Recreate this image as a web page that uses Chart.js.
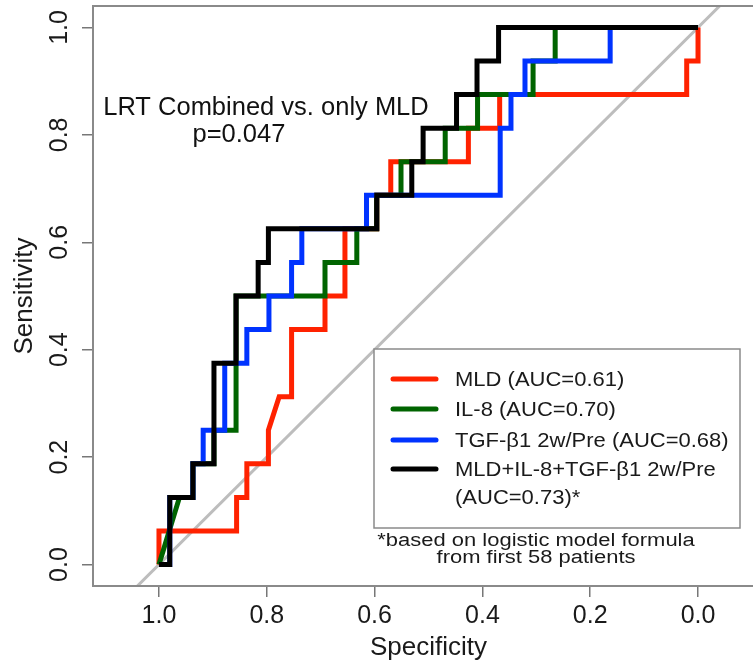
<!DOCTYPE html>
<html>
<head>
<meta charset="utf-8">
<script src="https://cdn.jsdelivr.net/npm/chart.js@4.4.1/dist/chart.umd.min.js"></script>
<style>
  html, body { margin: 0; padding: 0; background: #fff; overflow: hidden; }
  #wrap { width: 775px; height: 668px; }
</style>
</head>
<body>
<div id="wrap"><canvas id="roc" width="775" height="668"></canvas></div>
<script>
// --- tick labels ---
const xTicks = [1.0, 0.8, 0.6, 0.4, 0.2, 0.0];
const yTicks = [0.0, 0.2, 0.4, 0.6, 0.8, 1.0];

// --- ROC curves (specificity, sensitivity) ---
const mldSpec = [1.0, 1.0, 0.856, 0.856, 0.837, 0.837, 0.797, 0.797, 0.777, 0.754, 0.754, 0.692, 0.692, 0.655, 0.655, 0.596, 0.596, 0.570, 0.570, 0.426, 0.426, 0.368, 0.368, 0.021, 0.021, 0.0, 0.0];
const mldSens = [0, 0.0625, 0.0625, 0.125, 0.125, 0.1875, 0.1875, 0.25, 0.3125, 0.3125, 0.4375, 0.4375, 0.5, 0.5, 0.625, 0.625, 0.6875, 0.6875, 0.75, 0.75, 0.8125, 0.8125, 0.875, 0.875, 0.9375, 0.9375, 1.0];

const il8Spec = [1.0, 0.962, 0.937, 0.937, 0.898, 0.898, 0.857, 0.857, 0.692, 0.692, 0.633, 0.633, 0.596, 0.596, 0.551, 0.551, 0.469, 0.469, 0.409, 0.409, 0.306, 0.306, 0.265, 0.265, 0.0];
const il8Sens = [0, 0.125, 0.125, 0.1875, 0.1875, 0.25, 0.25, 0.5, 0.5, 0.5625, 0.5625, 0.625, 0.625, 0.6875, 0.6875, 0.75, 0.75, 0.8125, 0.8125, 0.875, 0.875, 0.9375, 0.9375, 1.0, 1.0];

const tgfSpec = [1.0, 0.98, 0.98, 0.937, 0.937, 0.918, 0.918, 0.878, 0.878, 0.837, 0.837, 0.796, 0.796, 0.754, 0.754, 0.735, 0.735, 0.615, 0.615, 0.367, 0.367, 0.347, 0.347, 0.321, 0.321, 0.163, 0.163, 0.0];
const tgfSens = [0, 0, 0.125, 0.125, 0.1875, 0.1875, 0.25, 0.25, 0.375, 0.375, 0.4375, 0.4375, 0.5, 0.5, 0.5625, 0.5625, 0.625, 0.625, 0.6875, 0.6875, 0.8125, 0.8125, 0.875, 0.875, 0.9375, 0.9375, 1.0, 1.0];

const comboSpec = [1.0, 0.98, 0.98, 0.937, 0.937, 0.898, 0.898, 0.857, 0.857, 0.816, 0.816, 0.797, 0.797, 0.596, 0.596, 0.531, 0.531, 0.510, 0.510, 0.448, 0.448, 0.410, 0.410, 0.370, 0.370, 0.0];
const comboSens = [0, 0, 0.125, 0.125, 0.1875, 0.1875, 0.375, 0.375, 0.5, 0.5, 0.5625, 0.5625, 0.625, 0.625, 0.6875, 0.6875, 0.75, 0.75, 0.8125, 0.8125, 0.875, 0.875, 0.9375, 0.9375, 1.0, 1.0];

// chance line, long enough to cross the whole plot box
const diagSpec = [1.2, -0.2];
const diagSens = [-0.2, 1.2];

const seriesLabels = ['MLD (AUC=0.61)', 'IL-8 (AUC=0.70)', 'TGF-β1 2w/Pre (AUC=0.68)', 'MLD+IL-8+TGF-β1 2w/Pre\n(AUC=0.73)*'];
const seriesColors = ['#ff2200', '#006400', '#0033ff', '#000000'];
const footnote = ['*based on logistic model formula', 'from first 58 patients'];
const noteLines = ['LRT Combined vs. only MLD', 'p=0.047'];

const FONT = '"Liberation Sans", Arial, Helvetica, sans-serif';

function toPoints(xs, ys) {
  return xs.map((x, i) => ({ x: x, y: ys[i] }));
}

// --- extras: box, annotation, legend, footnote ---
const rocExtras = {
  id: 'rocExtras',
  afterDatasetsDraw(chart) {
    const ctx = chart.ctx;
    const a = chart.chartArea;
    const xs = chart.scales.x, ys = chart.scales.y;

    // plot box
    ctx.save();
    ctx.strokeStyle = '#8a8a8a';
    ctx.lineWidth = 2;
    ctx.strokeRect(a.left, a.top, a.right - a.left, a.bottom - a.top);
    ctx.restore();

    // LRT note, placed in data units
    ctx.save();
    ctx.fillStyle = '#111';
    ctx.textAlign = 'center';
    ctx.textBaseline = 'alphabetic';
    ctx.font = '25.5px ' + FONT;
    ctx.fillText(noteLines[0], xs.getPixelForValue(0.8015), ys.getPixelForValue(0.837));
    ctx.fillText(noteLines[1], xs.getPixelForValue(0.8516), ys.getPixelForValue(0.786));
    ctx.restore();

    // legend box
    const bx = 374, by = 349, bw = 366, bh = 179;
    ctx.save();
    ctx.fillStyle = '#fff';
    ctx.fillRect(bx, by, bw, bh);
    ctx.strokeStyle = '#8a8a8a';
    ctx.lineWidth = 1.5;
    ctx.strokeRect(bx, by, bw, bh);

    const rowY = [379, 409, 440, 469];
    const rowGap = 28;
    ctx.textBaseline = 'middle';
    ctx.textAlign = 'left';
    ctx.font = '20px ' + FONT;
    seriesLabels.forEach((lab, i) => {
      ctx.strokeStyle = seriesColors[i];
      ctx.lineWidth = 5;
      ctx.lineCap = 'round';
      ctx.beginPath();
      ctx.moveTo(393, rowY[i]);
      ctx.lineTo(436, rowY[i]);
      ctx.stroke();
      ctx.fillStyle = '#1a1a1a';
      lab.split('\n').forEach((line, j) => {
        ctx.save();
        ctx.translate(455, rowY[i] + j * rowGap + 1);
        ctx.scale(1.1, 1);
        ctx.fillText(line, 0, 0);
        ctx.restore();
      });
    });

    // footnote under the legend
    ctx.textAlign = 'center';
    ctx.font = '18px ' + FONT;
    footnote.forEach((line, j) => {
      ctx.save();
      ctx.translate(536, 541 + j * 17);
      ctx.scale(1.22, 1);
      ctx.fillText(line, 0, 0);
      ctx.restore();
    });
    ctx.restore();
  }
};

const lineStyle = {
  fill: false,
  pointRadius: 0,
  borderWidth: 5,
  tension: 0,
  borderJoinStyle: 'miter',
  borderCapStyle: 'butt'
};

const ctx = document.getElementById('roc').getContext('2d');
new Chart(ctx, {
  type: 'line',
  data: {
    datasets: [
      Object.assign({ label: seriesLabels[3], data: toPoints(comboSpec, comboSens), borderColor: seriesColors[3], order: 0 }, lineStyle),
      Object.assign({ label: seriesLabels[2], data: toPoints(tgfSpec, tgfSens), borderColor: seriesColors[2], order: 1 }, lineStyle),
      Object.assign({ label: seriesLabels[1], data: toPoints(il8Spec, il8Sens), borderColor: seriesColors[1], order: 2 }, lineStyle),
      Object.assign({ label: seriesLabels[0], data: toPoints(mldSpec, mldSens), borderColor: seriesColors[0], order: 3 }, lineStyle),
      { label: 'chance', data: toPoints(diagSpec, diagSens), borderColor: '#bdbdbd', borderWidth: 3, pointRadius: 0, fill: false, order: 4 }
    ]
  },
  options: {
    responsive: false,
    devicePixelRatio: 1,
    animation: false,
    parsing: true,
    layout: { padding: { top: 6, right: 11, bottom: 0, left: 0 } },
    plugins: { legend: { display: false }, tooltip: { enabled: false } },
    scales: {
      x: {
        type: 'linear',
        reverse: true,
        min: -0.1224,
        max: 1.1224,
        afterBuildTicks: s => { s.ticks = xTicks.map(v => ({ value: v })); },
        afterFit: s => { s.height = 82; s.paddingLeft = 0; s.paddingRight = 0; },
        border: { display: false },
        grid: { drawOnChartArea: false, drawTicks: true, tickLength: 11, color: '#777', lineWidth: 1.5 },
        ticks: {
          autoSkip: false, maxRotation: 0, padding: 4, color: '#1a1a1a',
          font: { family: FONT, size: 25 },
          callback: v => Number(v).toFixed(1)
        },
        title: {
          display: true, text: 'Specificity', color: '#1a1a1a',
          font: { family: FONT, size: 26 }, padding: { top: 0, bottom: 5 }
        }
      },
      y: {
        type: 'linear',
        min: -0.04,
        max: 1.04,
        afterBuildTicks: s => { s.ticks = yTicks.map(v => ({ value: v })); },
        afterFit: s => { s.width = 93; s.paddingTop = 0; s.paddingBottom = 0; },
        border: { display: false },
        grid: { drawOnChartArea: false, drawTicks: true, tickLength: 11, color: '#777', lineWidth: 1.5 },
        ticks: {
          autoSkip: false, minRotation: 90, maxRotation: 90, crossAlign: 'center', padding: 5,
          color: '#1a1a1a', font: { family: FONT, size: 25 },
          callback: v => Number(v).toFixed(1)
        },
        title: {
          display: true, text: 'Sensitivity', color: '#1a1a1a',
          font: { family: FONT, size: 26 }, padding: { top: 9, bottom: 0 }
        }
      }
    }
  },
  plugins: [rocExtras]
});
</script>
</body>
</html>
